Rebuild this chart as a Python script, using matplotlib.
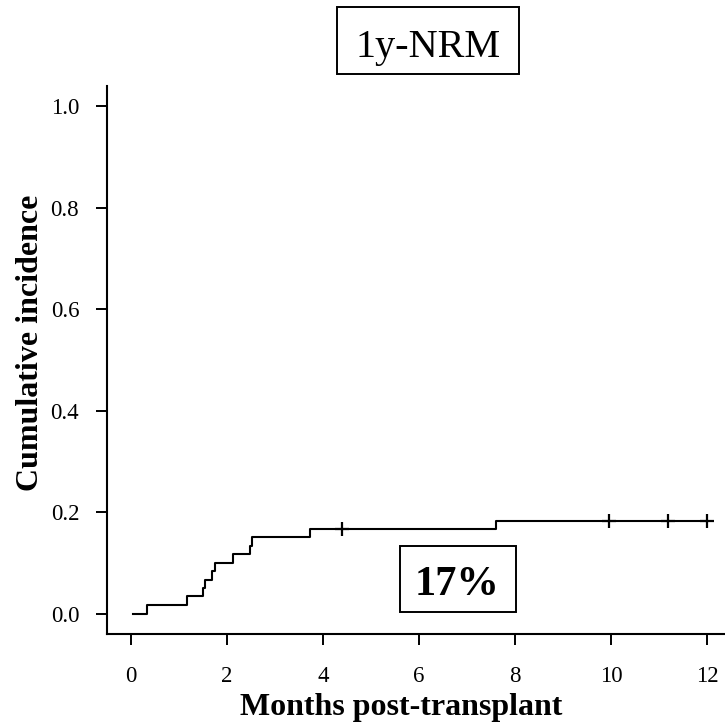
import matplotlib

matplotlib.use("Agg")
import matplotlib.pyplot as plt  # noqa: E402
from matplotlib.patches import Rectangle  # noqa: E402

# Cumulative incidence of non-relapse mortality (step function)
event_months = [0.05, 0.34, 1.18, 1.51, 1.54, 1.69, 1.76, 2.13, 2.49, 2.52, 3.74, 7.60, 12.0]
event_inc = [0.0, 0.017, 0.034, 0.051, 0.067, 0.084, 0.100, 0.118, 0.134, 0.151, 0.167, 0.183, 0.183]
censor_months = [4.40, 9.96, 11.19, 12.0]
censor_inc = [0.167, 0.183, 0.183, 0.183]

x_ticks = [0, 2, 4, 6, 8, 10, 12]
y_ticks = [0.0, 0.2, 0.4, 0.6, 0.8, 1.0]
y_ticklabels = ["0.0", "0.2", "0.4", "0.6", "0.8", "1.0"]
title = "1y-NRM"
estimate_label = "17%"

plt.rcParams["font.family"] = ["Liberation Serif", "DejaVu Serif"]

W, H = 725, 726
fig = plt.figure(figsize=(W / 100, H / 100), dpi=100)
ax = fig.add_axes([107.3 / W, 91.7 / H, (W - 107.3) / W, (634.3 - 85.7) / H])

ax.step(event_months, event_inc, where="post", color="black", linewidth=1.5)
ax.plot(censor_months, censor_inc, linestyle="none", marker="+", color="black",
        markersize=10, markeredgewidth=1.6)

ax.set_xlim(-0.49, 12.375)
ax.set_ylim(-0.041, 1.041)
ax.set_xticks(x_ticks)
ax.set_xticklabels([str(t) for t in x_ticks])
ax.set_yticks(y_ticks)
ax.set_yticklabels(y_ticklabels)
ax.tick_params(direction="out", length=7.7, width=1.4, labelsize=16.5)
ax.tick_params(axis="y", pad=12.5)
ax.tick_params(axis="x", pad=15)
for side in ("top", "right"):
    ax.spines[side].set_visible(False)
for side in ("left", "bottom"):
    ax.spines[side].set_linewidth(1.5)

fig.text(31 / W, 1 - 343 / H, "Cumulative incidence", rotation=90, fontsize=23,
         fontweight="bold", ha="center", va="center")
fig.text(401 / W, 1 - 715 / H, "Months post-transplant", fontsize=23,
         fontweight="bold", ha="center", va="baseline")


def framed(x0, y0, x1, y1):
    # box given in pixels from the top-left corner
    fig.patches.append(Rectangle((x0 / W, 1 - y1 / H), (x1 - x0) / W, (y1 - y0) / H,
                                 transform=fig.transFigure, facecolor="white",
                                 edgecolor="black", linewidth=1.4, zorder=3))


framed(336.7, 7.3, 519, 74)
fig.text(428 / W, 1 - 56.7 / H, title, fontsize=29, ha="center", va="baseline", zorder=4)
framed(400, 545.7, 515.7, 611.7)
fig.text(456.7 / W, 1 - 595 / H, estimate_label, fontsize=30.5, fontweight="bold",
         ha="center", va="baseline", zorder=4)

fig.savefig("out.png", dpi=100)
